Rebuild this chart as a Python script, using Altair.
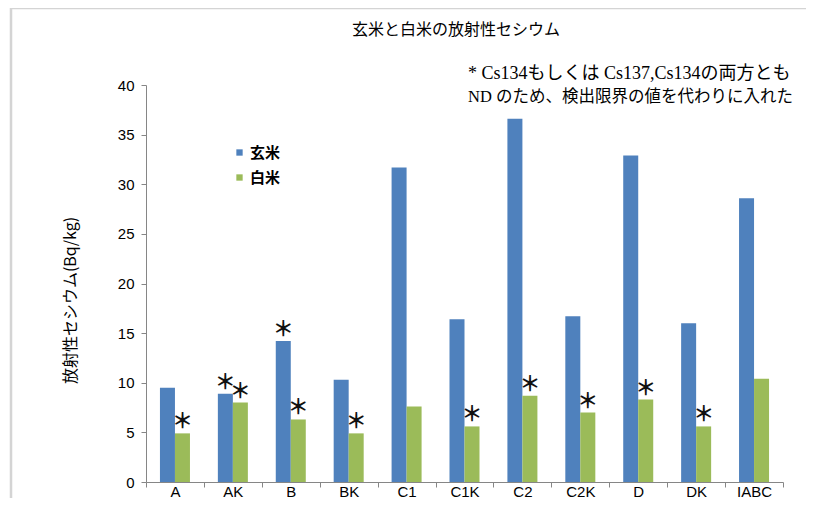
import altair as alt
import pandas as pd

# ---- data ----
categories = ["A", "AK", "B", "BK", "C1", "C1K", "C2", "C2K", "D", "DK", "IABC"]
series = ["玄米", "白米"]
genmai = [9.5, 8.9, 14.2, 10.3, 31.7, 16.4, 36.6, 16.7, 32.9, 16.0, 28.6]
hakumai = [4.9, 8.0, 6.3, 4.9, 7.6, 5.6, 8.7, 7.0, 8.3, 5.6, 10.4]
genmai_star = [False, True, True, False, False, False, False, False, False, False, False]
hakumai_star = [True, True, True, True, False, True, True, True, True, True, False]
colors = ["#4F81BD", "#9BBB59"]
y_ticks = [0, 5, 10, 15, 20, 25, 30, 35, 40]
title_text = "玄米と白米の放射性セシウム"
y_title = "放射性セシウム(Bq/kg)"
note_lines = ["* Cs134もしくは Cs137,Cs134の両方とも",
              "ND のため、検出限界の値を代わりに入れた"]

rows = []
for i, c in enumerate(categories):
    rows.append({"cat": c, "type": series[0], "value": genmai[i],
                 "star": "＊" if genmai_star[i] else ""})
    rows.append({"cat": c, "type": series[1], "value": hakumai[i],
                 "star": "＊" if hakumai_star[i] else ""})
df = pd.DataFrame(rows)

AXIS_GRAY = "#868686"
LATIN = "Liberation Sans"
JP = "Noto Sans CJK JP"

x_enc = alt.X(
    "cat:N", sort=categories,
    scale=alt.Scale(paddingInner=0, paddingOuter=0),
    axis=alt.Axis(title=None, labelAngle=0, tickBand="extent",
                  domainColor=AXIS_GRAY, tickColor=AXIS_GRAY, tickSize=5,
                  labelFont=LATIN, labelFontSize=15, labelColor="#000",
                  labelPadding=-3),
)
xo_enc = alt.XOffset("type:N", sort=series,
                     scale=alt.Scale(paddingInner=0, paddingOuter=0.93))
y_enc = alt.Y(
    "value:Q",
    scale=alt.Scale(domain=[0, 40], nice=False),
    axis=alt.Axis(values=y_ticks, grid=False, title=y_title,
                  domainColor=AXIS_GRAY, tickColor=AXIS_GRAY, tickSize=5,
                  labelFont=LATIN, labelFontSize=15, labelColor="#000",
                  labelPadding=7,
                  titleFont=JP, titleFontSize=16, titleFontWeight="normal",
                  titleColor="#000", titleAngle=270, titleX=-76, titleY=215,
                  titleAlign="center", titleBaseline="middle"),
)

base = alt.Chart(df)

bars = base.mark_bar().encode(
    x=x_enc, xOffset=xo_enc, y=y_enc,
    color=alt.Color(
        "type:N", sort=series,
        scale=alt.Scale(domain=series, range=colors),
        legend=alt.Legend(title=None, orient="none", legendX=86, legendY=60,
                          symbolType="square", symbolSize=40,
                          symbolStrokeWidth=0, labelFont=JP, labelFontSize=15,
                          labelFontWeight="bold", labelColor="#000",
                          rowPadding=9, labelOffset=3),
    ),
)

stars = base.transform_filter("datum.star != ''").mark_text(
    font=JP, fontSize=21, fontWeight="bold", baseline="middle", dy=-11,
    color="#111"
).encode(x=x_enc, xOffset=xo_enc, y=y_enc, text="star:N")

blank = alt.Data(values=[{}])
note_font = "'Liberation Serif', 'Noto Sans CJK JP'"
note1 = alt.Chart(blank).mark_text(
    align="left", baseline="middle", font=note_font, fontSize=18, color="#000"
).encode(x=alt.value(322), y=alt.value(-11), text=alt.value(note_lines[0]))
note2 = alt.Chart(blank).mark_text(
    align="left", baseline="middle", font=note_font, fontSize=16.5,
    color="#000", limit=336
).encode(x=alt.value(322), y=alt.value(12), text=alt.value(note_lines[1]))

title = alt.Chart(blank).mark_text(
    align="center", baseline="middle", font=JP, fontSize=16, color="#000"
).encode(x=alt.value(310), y=alt.value(-55), text=alt.value(title_text))

frame_left = alt.Chart(blank).mark_rule(
    stroke="#d4d4d4", strokeWidth=2.5
).encode(x=alt.value(-135), y=alt.value(-77), y2=alt.value(413))
frame_top = alt.Chart(blank).mark_rule(
    stroke="#d4d4d4", strokeWidth=2.5
).encode(y=alt.value(-77), x=alt.value(-136), x2=alt.value(660))

chart = alt.layer(frame_left, frame_top, bars, stars, note1, note2, title).properties(
    width=637, height=397,
    autosize=alt.AutoSizeParams(type="none"),
    padding={"left": 138, "top": 77, "right": 23, "bottom": 16},
).configure_view(stroke=None)

chart.save("out.html", embed_options={"renderer": "svg", "actions": False})
